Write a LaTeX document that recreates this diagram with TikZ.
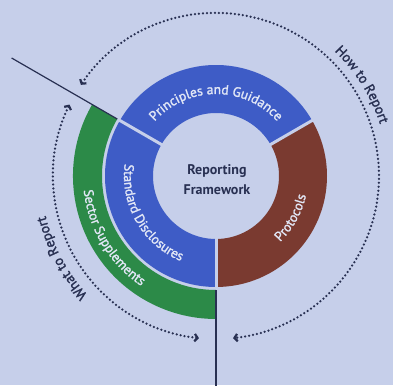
\documentclass[tikz,border=0pt]{standalone}
\usepackage{fontspec}
\setmainfont{PT Sans}
\newfontfamily\labelfont{PT Sans}[FakeBold=1.6]
\usetikzlibrary{arrows.meta,decorations.text}

\definecolor{paper}{HTML}{C6CFEA}
\definecolor{ringblue}{HTML}{3E5CC6}
\definecolor{ringbrown}{HTML}{7A3A30}
\definecolor{ringgreen}{HTML}{2C8A48}
\definecolor{ink}{HTML}{283052}
\definecolor{ringtext}{HTML}{E2E7F6}

\tikzset{
  gapline/.style={draw=paper, line width=3pt},
  axisline/.style={draw=ink, line width=1.2pt},
  barb/.tip={Straight Barb[length=3pt,width=7.5pt,line width=2.2pt]},
  dotarc/.style={draw=ink, line width=2.5pt, line cap=round,
    dash pattern=on 0pt off 4pt, barb-barb},
  ringlabel/.style={decorate, decoration={text along path, text align=center, text color=ringtext}},
  outerlabel/.style={decorate, decoration={text along path, text align=center, text color=ink}},
}

\begin{document}
\begin{tikzpicture}[x=1pt,y=1pt]
  % page
  \fill[paper] (-216,-209) rectangle (177,176);
  \useasboundingbox (-216,-209) rectangle (177,176);

  % inner ring: three sectors
  \fill[ringblue] (30:111) arc[start angle=30,end angle=150,radius=111]
    -- (150:63) arc[start angle=150,end angle=30,radius=63] -- cycle;
  \fill[ringblue] (150:111) arc[start angle=150,end angle=270,radius=111]
    -- (270:63) arc[start angle=270,end angle=150,radius=63] -- cycle;
  \fill[ringbrown] (-90:111) arc[start angle=-90,end angle=30,radius=111]
    -- (30:63) arc[start angle=30,end angle=-90,radius=63] -- cycle;

  % outer ring: sector supplements
  \fill[ringgreen] (150:143) arc[start angle=150,end angle=270,radius=143]
    -- (270:114) arc[start angle=270,end angle=150,radius=114] -- cycle;

  % gaps between sectors
  \draw[gapline] (30:60) -- (30:113);
  \draw[gapline] (150:60) -- (150:113);
  \draw[gapline] (270:60) -- (270:113);

  % dividing lines
  \coordinate (d1a) at (150:114);
  \coordinate (d1b) at (150:236);
  \coordinate (d2a) at (270:114);
  \coordinate (d2b) at (270:215);
  \draw[axisline] (d1a) -- (d1b);
  \draw[axisline] (d2a) -- (d2b);

  % dotted arrows
  \draw[dotarc] (146:163) arc[start angle=146,end angle=-84,radius=163];
  \draw[dotarc] (154:163) arc[start angle=154,end angle=264,radius=163];

  % centre
  \node[font=\bfseries\fontsize{14}{16}\selectfont, text=ink, anchor=base] (rep) at (1,1) {Reporting};
  \node[font=\bfseries\fontsize{14}{16}\selectfont, text=ink, anchor=base] (fw) at (1,-19) {Framework};

  % ring labels
  \path[ringlabel, decoration={text={|\labelfont\fontsize{13.5}{14}\selectfont|Principles and Guidance}}]
    (175:82) arc[start angle=175,end angle=5,radius=82];
  \path[ringlabel, decoration={text={|\labelfont\fontsize{13.5}{14}\selectfont|Protocols}}]
    (-79:92) arc[start angle=-79,end angle=21,radius=92];
  \path[ringlabel, decoration={text={|\labelfont\fontsize{13.5}{14}\selectfont|Standard Disclosures}}]
    (150:92) arc[start angle=150,end angle=270,radius=92];
  \path[ringlabel, decoration={text={|\labelfont\fontsize{13.5}{14}\selectfont|Sector Supplements}}]
    (161:133) arc[start angle=161,end angle=261,radius=133];

  % outer labels
  \path[outerlabel, decoration={text={|\labelfont\fontsize{14}{15}\selectfont|How to Report}}]
    (72:172) arc[start angle=72,end angle=-8,radius=172];
  \path[outerlabel, decoration={text={|\labelfont\fontsize{14}{15}\selectfont|What to Report}}]
    (248:175) arc[start angle=248,end angle=168,radius=175];
\end{tikzpicture}
\end{document}
